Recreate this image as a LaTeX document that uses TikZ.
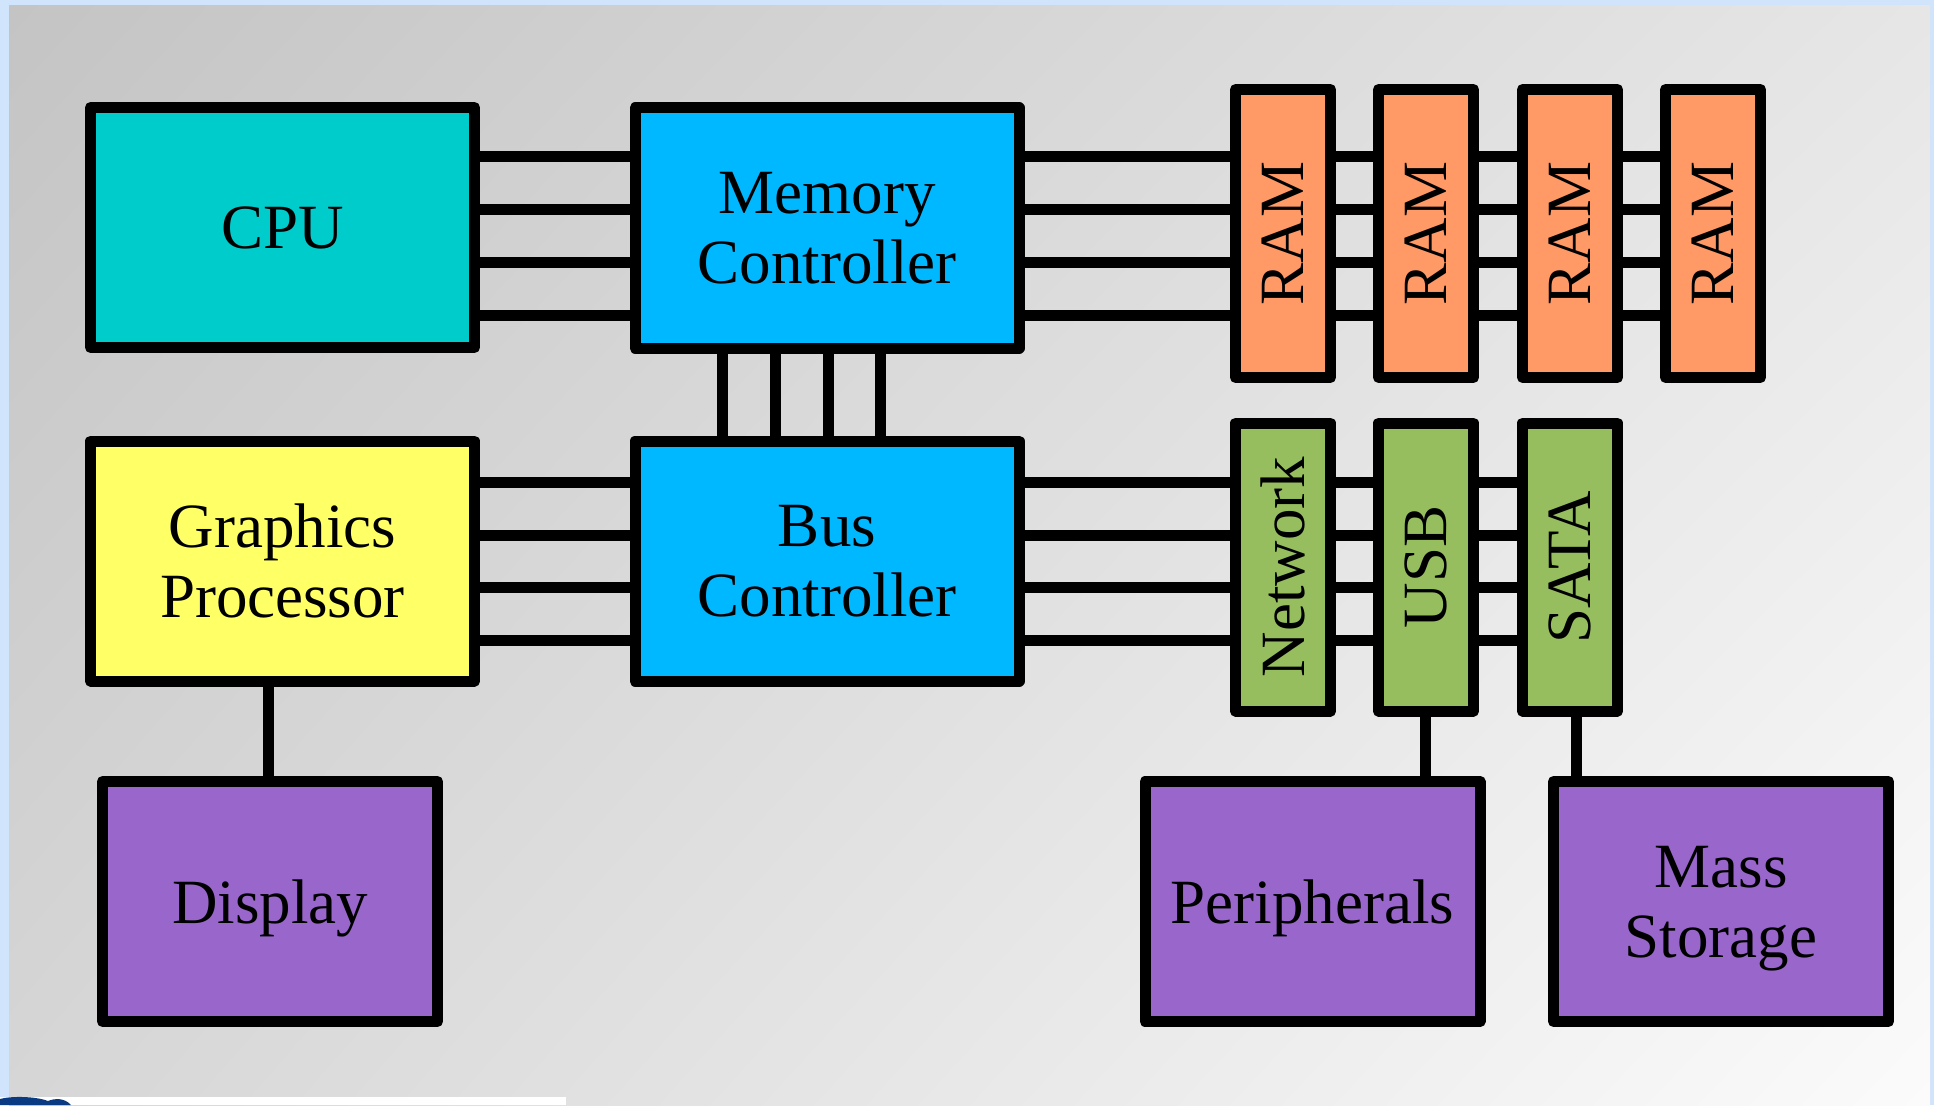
\documentclass[tikz,border=0pt]{standalone}
\usepackage{fontspec}
\usepackage{graphicx}
\usetikzlibrary{shadings}
\setmainfont{Liberation Serif}
\definecolor{bgblue}{HTML}{D0E4FB}
\definecolor{cpuc}{HTML}{00CCCC}
\definecolor{ctrlc}{HTML}{00B8FF}
\definecolor{gpuc}{HTML}{FFFF66}
\definecolor{purp}{HTML}{9966CC}
\definecolor{ramc}{HTML}{FF9966}
\definecolor{iogreen}{HTML}{96BE5F}
\definecolor{logoblue}{HTML}{0A3A82}
\definecolor{pul}{HTML}{C4C4C4}
\definecolor{pur}{HTML}{E6E6E6}
\definecolor{pll}{HTML}{D6D6D6}
\definecolor{plr}{HTML}{FBFBFB}
\begin{document}
\begin{tikzpicture}[x=1pt,y=-1pt,
  box/.style={draw=black, line width=11pt, line join=round, inner sep=0pt,
    text depth=0pt, align=center, font=\fontsize{63}{70}\selectfont},
  bigbox/.style={box, minimum width=384pt, minimum height=240pt},
  lowbox/.style={box, fill=purp, minimum width=335pt, minimum height=240pt},
  slot/.style={box, minimum width=95pt, minimum height=288pt},
  wire/.style={draw=black, line width=11pt, line cap=butt}]
\useasboundingbox (0,0) rectangle (1934,1105);
\fill[bgblue] (0,0) rectangle (1934,1105);
\shade[upper left=pul, upper right=pur, lower left=pll, lower right=plr]
  (9,6) rectangle (1930,1105);
% footer strip
\fill[white] (0,1097) rectangle (566,1105);
\fill[logoblue] (0,1105) -- (0,1099) .. controls (10,1096) and (35,1096) .. (48,1101)
  .. controls (55,1098) and (65,1098) .. (71,1105) -- cycle;

% nodes
\node[bigbox, fill=cpuc] (cpu) at (282.5,227.5) {CPU};
\node[bigbox, fill=ctrlc] (mc) at (827,228) {Memory\\Controller};
\node[bigbox, fill=gpuc] (gp) at (282.5,561) {Graphics\\Processor};
\node[bigbox, fill=ctrlc] (bc) at (827,561) {Bus\\Controller};
\node[lowbox] (disp) at (270,901.5) {Display};
\node[lowbox] (peri) at (1312.5,901.5) {Peripherals};
\node[lowbox] (mass) at (1721,901.5) {Mass\\Storage};
\node[slot, fill=ramc] (ram1) at (1283,233.5) {\rotatebox{90}{RAM}};
\node[slot, fill=ramc] (ram2) at (1426,233.5) {\rotatebox{90}{RAM}};
\node[slot, fill=ramc] (ram3) at (1570,233.5) {\rotatebox{90}{RAM}};
\node[slot, fill=ramc] (ram4) at (1713,233.5) {\rotatebox{90}{RAM}};
\node[slot, fill=iogreen] (net) at (1283,567) {\rotatebox{90}{Network}};
\node[slot, fill=iogreen] (usb) at (1426,567) {\rotatebox{90}{USB}};
\node[slot, fill=iogreen] (sata) at (1570,567) {\rotatebox{90}{SATA}};

% memory bus
\foreach \y in {156,209,262,315} {
  \draw[wire] (cpu.east|-0,\y) -- (mc.west|-0,\y);
  \draw[wire] (mc.east|-0,\y) -- (ram1.west|-0,\y);
  \draw[wire] (ram1.east|-0,\y) -- (ram2.west|-0,\y);
  \draw[wire] (ram2.east|-0,\y) -- (ram3.west|-0,\y);
  \draw[wire] (ram3.east|-0,\y) -- (ram4.west|-0,\y);
}
% controller link
\foreach \x in {722,775,828,880} {
  \draw[wire] (mc.south-|\x,0) -- (bc.north-|\x,0);
}
% io bus
\foreach \y in {482,535,587,640} {
  \draw[wire] (gp.east|-0,\y) -- (bc.west|-0,\y);
  \draw[wire] (bc.east|-0,\y) -- (net.west|-0,\y);
  \draw[wire] (net.east|-0,\y) -- (usb.west|-0,\y);
  \draw[wire] (usb.east|-0,\y) -- (sata.west|-0,\y);
}
% device links
\draw[wire] (gp.south-|268,0) -- (disp.north-|268,0);
\draw[wire] (usb.south-|1425,0) -- (peri.north-|1425,0);
\draw[wire] (sata.south-|1576,0) -- (mass.north-|1576,0);
\end{tikzpicture}
\end{document}
